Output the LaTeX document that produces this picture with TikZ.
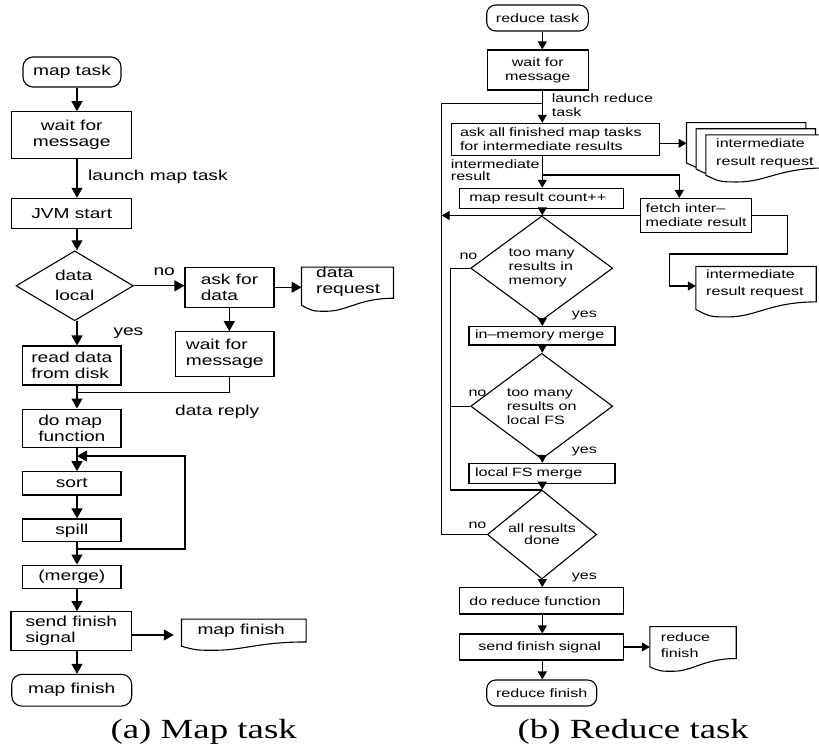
\documentclass[tikz,border=0pt]{standalone}
\usepackage{fontspec}
\setmainfont{Liberation Sans}
\newfontfamily\sansw[FakeStretch=1.33]{Liberation Sans}
\newfontfamily\serifw[FakeStretch=1.33]{Liberation Serif}
\usetikzlibrary{arrows.meta,shapes.geometric,calc}
\newcommand{\mapsize}{\sansw\fontsize{14.4}{16}\selectfont}
\newcommand{\redsize}{\sansw\fontsize{12.1}{14}\selectfont}
\newcommand{\capsize}{\serifw\fontsize{27.7}{30}\selectfont}

\tikzset{
  ln/.style={line width=1.1pt},
  marr/.style={ln, -{Triangle[length=10pt,width=11pt]}},
  rarr/.style={ln, -{Triangle[length=8pt,width=9pt]}},
  mbox/.style={draw, ln, inner sep=0pt, align=center, font=\mapsize},
  mterm/.style={mbox, rounded corners=10pt},
  mdec/.style={mbox, diamond},
  rbox/.style={draw, ln, inner sep=0pt, align=center, font=\redsize},
  rterm/.style={rbox, rounded corners=9pt},
  rdec/.style={rbox, diamond},
  docbox/.style={inner sep=0pt},
  mlbl/.style={inner sep=0pt, anchor=west, align=left, font=\mapsize},
  rlbl/.style={inner sep=0pt, anchor=west, align=left, font=\redsize},
}

% document symbol: flat top, wavy bottom
% #1 node, #2 rise of the left end above the lowest point, #3 rise of the right end
\newcommand{\docline}[3]{%
  \draw[ln, fill=white] (#1.north west) -- ([yshift=#2]#1.south west)
    .. controls ($(#1.south west)!0.12!(#1.south east)$) .. ($(#1.south west)!0.27!(#1.south east)$)
    .. controls ($(#1.south west)!0.5!(#1.south east)$) and ([yshift=#3]$(#1.south west)!0.62!(#1.south east)$)
    .. ([yshift=#3]#1.south east)
    -- (#1.north east) -- cycle;}

\begin{document}
\begin{tikzpicture}[x=1pt, y=-1pt]
\useasboundingbox (0,0) rectangle (819,744);
\clip (0,0) rectangle (819,744);

% ---------------- map task ----------------
\coordinate (mx) at (77,0);
\coordinate (ax) at (229.3,0);

\node[mterm, minimum width=98pt, minimum height=30pt] (mtask) at (72,72) {map task};
\node[mbox, minimum width=120pt, minimum height=46.6pt] (mwait) at (71.7,135) {wait for\\message};
\node[mbox, minimum width=120pt, minimum height=30pt] (jvm) at (71.7,213.3) {JVM start};
\node[mdec, align=left, minimum width=117.3pt, minimum height=65pt] (local) at (74.7,285.8) {data\\[4pt]local};
\node[mbox, align=left, minimum width=89pt, minimum height=40pt] (ask) at (229.5,287.3) {ask for\\data};
\node[docbox, minimum width=91.6pt, minimum height=43.7pt] (dreq) at (347.5,289.2) {};
\docline{dreq}{6pt}{13pt}
\node[mlbl] (dreqt) at (316,281.7) {data\\request};
\node[mbox, align=left, minimum width=98.3pt, minimum height=45pt] (wait2) at (224.8,354.2) {wait for\\message};
\node[mbox, align=left, minimum width=98.3pt, minimum height=39pt] (read) at (71.8,365.5) {read data\\from disk};
\node[mbox, align=left, minimum width=98.3pt, minimum height=38.3pt] (domap) at (71.8,428.2) {do map\\function};
\node[mbox, minimum width=98.3pt, minimum height=23.3pt] (sort) at (71.8,483.3) {sort};
\node[mbox, minimum width=98.3pt, minimum height=22.7pt] (spill) at (71.8,530.3) {spill};
\node[mbox, minimum width=98.3pt, minimum height=23.3pt] (merge) at (71.8,576.7) {(merge)};
\node[mbox, align=left, minimum width=120.7pt, minimum height=39pt] (send) at (71.3,631.2) {send finish\\signal};
\node[docbox, minimum width=124.3pt, minimum height=30.7pt] (mdoc) at (243.8,634.7) {};
\docline{mdoc}{4pt}{8.3pt}
\node[mlbl] (mdoct) at (197.3,630.7) {map finish};
\node[mterm, minimum width=120pt, minimum height=31.7pt] (mfin) at (71.7,690.2) {map finish};

\node[mlbl] (llaunch) at (88,176.7) {launch map task};
\node[mlbl] (lno) at (153.3,271.7) {no};
\node[mlbl] (lyes) at (113.3,333) {yes};
\node[mlbl] (lreply) at (175,411.7) {data reply};

\coordinate (jn) at (0,392.7);
\coordinate (lp) at (185,549);
\coordinate (lp2) at (185,456);
\coordinate (sendout) at ([yshift=-3.8pt]send.east);

\draw[marr] (mtask.south -| mx) -- (mwait.north -| mx);
\draw[marr] (mwait.south -| mx) -- (jvm.north -| mx);
\draw[marr] (jvm.south -| mx) -- (local.north -| mx);
\draw[marr] (local.east) -- (local.east -| ask.west);
\draw[marr] (ask.east) -- (ask.east -| dreq.west);
\draw[marr] (ask.south -| ax) -- (wait2.north -| ax);
\draw[marr] (local.south -| mx) -- (read.north -| mx);
\draw[ln] (wait2.south -| ax) |- (jn -| mx);
\draw[marr] (read.south -| mx) -- (domap.north -| mx);
\draw[marr] (domap.south -| mx) -- (sort.north -| mx);
\draw[marr] (sort.south -| mx) -- (spill.north -| mx);
\draw[marr] (spill.south -| mx) -- (merge.north -| mx);
\draw[marr] (lp -| mx) -- (lp) -- (lp2) -- (lp2 -| mx);
\draw[marr] (merge.south -| mx) -- (send.north -| mx);
\draw[marr, shorten >=7.7pt] (sendout) -- (sendout -| mdoc.west);
\draw[marr] (send.south -| mx) -- (mfin.north -| mx);

\node[font=\capsize, anchor=base] (capa) at (203.7,738.3) {(a) Map task};

% ---------------- reduce task ----------------
\coordinate (rx) at (542.3,0);

\node[rterm, minimum width=101.6pt, minimum height=26pt] (rtask) at (537.5,18) {reduce task};
\node[rbox, minimum width=101pt, minimum height=40pt] (rwait) at (537.8,70) {wait for\\message};
\node[rbox, align=left, text width=190.4pt, minimum width=208.3pt, minimum height=31.7pt] (askall) at (555.2,139.2) {ask all finished map tasks\\for intermediate results};
\node[rbox, align=left, text width=144pt, minimum width=164pt, minimum height=20pt] (count) at (541.3,198.3) {map result count++};
\node[rbox, align=left, minimum width=111pt, minimum height=34pt] (fetch) at (696.2,215.5) {fetch inter–\\mediate result};
\node[rdec, align=left, minimum width=142pt, minimum height=78.6pt] (d1) at (541.7,268.2) {too many\\results in\\memory};
\node[rbox, align=left, text width=134pt, minimum width=146pt, minimum height=18.3pt] (imm) at (542,335.8) {in–memory merge};
\node[rdec, align=left, minimum width=142pt, minimum height=77.7pt] (d2) at (541.7,406.2) {too many\\results on\\local FS};
\node[rbox, align=left, text width=134pt, minimum width=146pt, minimum height=20pt] (lfs) at (542,473.3) {local FS merge};
\node[rdec, minimum width=109.4pt, minimum height=59pt] (d3) at (542,534.5) {all results\\[-2pt]done};
\node[rbox, align=left, text width=143.8pt, minimum width=164.3pt, minimum height=26.3pt] (dored) at (541.2,600.8) {do reduce function};
\node[rbox, align=left, text width=125.8pt, minimum width=164.3pt, minimum height=26pt] (sendr) at (541.2,647) {send finish signal};
\node[rterm, minimum width=110pt, minimum height=26pt] (rfin) at (541.7,693) {reduce finish};

% stacked request documents
\node[docbox, minimum width=119pt, minimum height=46.7pt] (istk1) at (746.2,146.1) {};
\docline{istk1}{6.7pt}{14pt}
\node[docbox, minimum width=119pt, minimum height=46.7pt] (istk2) at (755.8,152.3) {};
\docline{istk2}{6.7pt}{14pt}
\node[docbox, minimum width=119pt, minimum height=46.7pt] (istk3) at (765.5,158.4) {};
\docline{istk3}{6.7pt}{14pt}
\node[rlbl] (istkt) at (716,153.2) {intermediate\\[4.3pt]result request};

\node[docbox, minimum width=120pt, minimum height=50pt] (idoc2) at (756,291.7) {};
\docline{idoc2}{7.4pt}{15pt}
\node[rlbl] (idoc2t) at (706,283.8) {intermediate\\[3.7pt]result request};

\node[docbox, minimum width=86pt, minimum height=44.3pt] (rdoc) at (693,648.9) {};
\docline{rdoc}{4.3pt}{12.7pt}
\node[rlbl] (rdoct) at (660.7,644.7) {reduce\\[2pt]finish};

\node[rlbl] (rlaunch) at (551.7,105.3) {launch reduce\\task};
\node[rlbl] (rinter) at (450.7,170.3) {intermediate\\[-1.3pt]result};
\node[rlbl] (rno1) at (459.3,256.7) {no};
\node[rlbl] (ryes1) at (571.7,315.7) {yes};
\node[rlbl] (rno2) at (468.3,393.3) {no};
\node[rlbl] (ryes2) at (571.7,451.7) {yes};
\node[rlbl] (rno3) at (468.3,525) {no};
\node[rlbl] (ryes3) at (571.7,577.3) {yes};

\coordinate (ltop) at (441.7,103.3);
\coordinate (lin) at (450.7,490);
\coordinate (br) at (679.3,175);
\coordinate (fr1) at (787.7,254);
\coordinate (fr2) at (669.3,286);
\coordinate (askout) at ([yshift=-4.1pt]askall.east);

\draw[rarr] (rtask.south -| rx) -- (rwait.north -| rx);
\draw[rarr] (rwait.south -| rx) -- (askall.north -| rx);
\draw[rarr] (askout) -- (askout -| istk1.west);
\draw[rarr] (askall.south -| rx) -- (count.north -| rx);
\draw[rarr] (br -| rx) -- (br) -- (br |- fetch.north);
\draw[rarr] (fetch.west) -- (fetch.west -| ltop);
\draw[rarr] (fetch.east) -| (fr1) -- (fr1 -| fr2) -- (fr2) -- (fr2 -| idoc2.west);
\draw[rarr] (count.south -| rx) -- (d1.north -| rx);
\draw[rarr] (d1.south -| rx) -- (imm.north -| rx);
\draw[rarr] (imm.south -| rx) -- (d2.north -| rx);
\draw[rarr] (d2.south -| rx) -- (lfs.north -| rx);
\draw[ln] (d1.west) -| (lin) -- (lin -| rx);
\draw[ln] (d2.west) -- (d2.west -| lin);
\draw[rarr] (lfs.south -| rx) -- (d3.north -| rx);
\draw[ln] (d3.west) -| (ltop) -- (ltop -| rx);
\draw[rarr] (d3.south -| rx) -- (dored.north -| rx);
\draw[rarr] (dored.south -| rx) -- (sendr.north -| rx);
\draw[rarr] (sendr.east) -- (sendr.east -| rdoc.west);
\draw[rarr] (sendr.south -| rx) -- (rfin.north -| rx);

\node[font=\capsize, anchor=base] (capb) at (633.3,738.3) {(b) Reduce task};
\end{tikzpicture}
\end{document}
